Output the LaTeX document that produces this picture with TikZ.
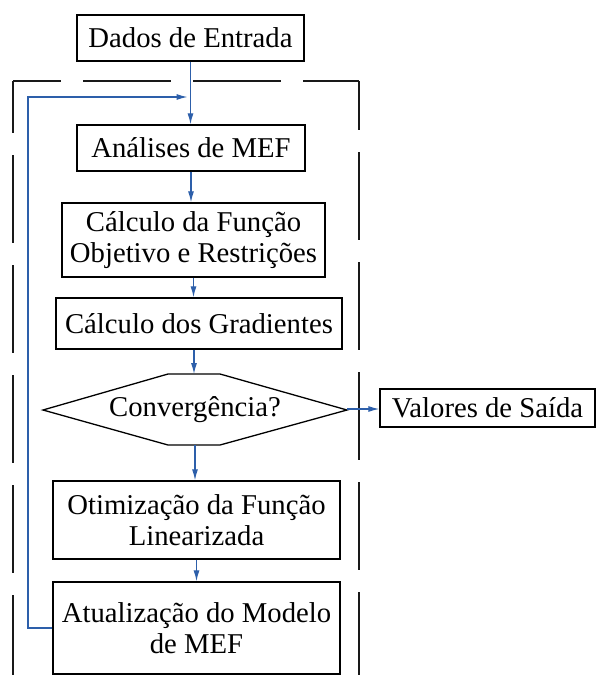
\documentclass[tikz,border=0pt]{standalone}
\usepackage{fontspec}
\setmainfont{Liberation Serif}
\usetikzlibrary{arrows.meta}
\definecolor{arrowblue}{RGB}{45,95,170}
\definecolor{framegray}{RGB}{25,25,25}
\tikzset{
  stepbox/.style={draw=black, line width=1.3pt, inner sep=0pt, align=center,
    font=\fontsize{28.7}{30.5}\selectfont},
  arr/.style={draw=arrowblue, line width=1.2pt, -{Latex[length=11pt,width=6pt]}},
  frameline/.style={draw=framegray, line width=1.5pt, dash pattern=on 88pt off 22pt},
  hexa/.style={draw=black, line width=1.3pt}
}
\begin{document}
\begin{tikzpicture}[x=1pt,y=-1pt]
\useasboundingbox (0,0) rectangle (596,675);

% dashed frame
\draw[frameline, dash phase=40pt] (13,81) -- (359,81);
\draw[frameline, dash phase=36pt] (13,81) -- (13,676);
\draw[frameline, dash phase=39pt] (359,81) -- (359,676);

% boxes
\node[stepbox, minimum width=227pt, minimum height=46pt] (dados) at (190.5,38) {Dados de Entrada};
\node[stepbox, minimum width=228pt, minimum height=46pt] (analises) at (191,148) {Análises de MEF};
\node[stepbox, minimum width=263pt, minimum height=74pt] (funcao) at (193.5,240) {Cálculo da Função\\Objetivo e Restrições};
\node[stepbox, minimum width=286pt, minimum height=51pt] (grad) at (199,323.5) {Cálculo dos Gradientes};

% hexagon decision
\draw[hexa] (43,410) -- (168,374) -- (220,374) -- (347,410) -- (220,445) -- (168,445) -- cycle;
\node[inner sep=0pt, font=\fontsize{28.7}{30.5}\selectfont] (conv) at (195,410) {Convergência?};
\coordinate (convN) at (194,374);
\coordinate (convS) at (195,445);
\coordinate (convE) at (347,409);

\node[stepbox, minimum width=215pt, minimum height=38pt] (valores) at (487.5,408) {Valores de Saída};
\node[stepbox, minimum width=287pt, minimum height=78pt] (otim) at (196.5,520) {Otimização da Função\\Linearizada};
\node[stepbox, minimum width=287pt, minimum height=92pt] (atual) at (196.5,628) {Atualização do Modelo\\de MEF};

% connectors
\draw[arr] (dados.south) -- (dados.south |- analises.north);
\draw[arr] (analises.south) -- (analises.south |- funcao.north);
\draw[arr] (funcao.south) -- (funcao.south |- grad.north);
\draw[arr] (grad.south -| convN) -- (convN);
\draw[arr] (convS) -- (convS |- otim.north);
\draw[arr] (otim.south) -- (otim.south |- atual.north);
\draw[arr] (convE) -- (convE -| valores.west);

% feedback loop
\coordinate (fbleft) at (28,97);
\coordinate (join) at (190.5,97);
\draw[arr, shorten >=3pt] (atual.west) -| (fbleft) -- (join);
\end{tikzpicture}
\end{document}
